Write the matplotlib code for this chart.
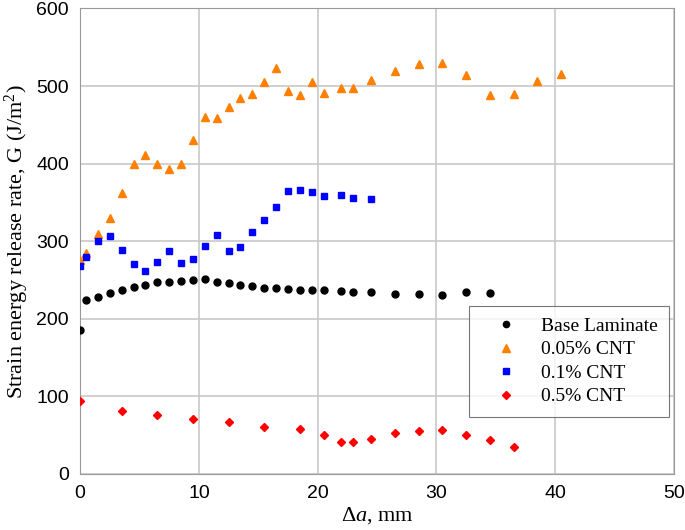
import numpy as np
import matplotlib
matplotlib.use('Agg')
import matplotlib.pyplot as plt

plt.rcParams['mathtext.fontset'] = 'custom'
plt.rcParams['mathtext.rm'] = 'Liberation Serif'
plt.rcParams['mathtext.it'] = 'Liberation Serif:italic'

# crack extension (mm) and G (J/m^2)
base_x = [0, 0.5, 1.5, 2.5, 3.5, 4.5, 5.5, 6.5, 7.5, 8.5, 9.5, 10.5, 11.5, 12.5, 13.5,
          14.5, 15.5, 16.5, 17.5, 18.5, 19.5, 20.5, 22, 23, 24.5, 26.5, 28.5, 30.5, 32.5, 34.5]
base_g = [186, 224, 228, 233, 237, 241, 244, 247, 247, 249, 250, 251, 247, 246, 244,
          242, 240, 239, 238, 237.5, 237.5, 237, 236, 235, 234, 232, 231.5, 231, 234, 233]

cnt005_x = [0, 0.5, 1.5, 2.5, 3.5, 4.5, 5.5, 6.5, 7.5, 8.5, 9.5, 10.5, 11.5, 12.5, 13.5,
            14.5, 15.5, 16.5, 17.5, 18.5, 19.5, 20.5, 22, 23, 24.5, 26.5, 28.5, 30.5, 32.5,
            34.5, 36.5, 38.5, 40.5]
cnt005_g = [276, 285, 309, 330, 362, 399, 411, 400, 393, 400, 430, 460, 459, 473, 485,
            490, 505, 523, 493, 489, 505, 491, 497, 497, 508, 519, 529, 530, 514,
            489, 490, 507, 516]

cnt01_x = [0, 0.5, 1.5, 2.5, 3.5, 4.5, 5.5, 6.5, 7.5, 8.5, 9.5, 10.5, 11.5, 12.5, 13.5,
           14.5, 15.5, 16.5, 17.5, 18.5, 19.5, 20.5, 22, 23, 24.5]
cnt01_g = [268, 279, 300, 306, 288, 271, 261, 273, 287, 272, 277, 294, 308, 287, 293,
           312, 327, 344, 365, 366, 363, 358, 360, 355, 354]

cnt05_x = [0, 3.5, 6.5, 9.5, 12.5, 15.5, 18.5, 20.5, 22, 23, 24.5, 26.5, 28.5, 30.5,
           32.5, 34.5, 36.5]
cnt05_g = [94, 80.5, 76, 71, 66.5, 61, 58, 50, 41, 41, 45.5, 52, 55, 57, 50, 43, 34]

fig = plt.figure(figsize=(6.85, 5.3), dpi=100)
ax = fig.add_axes([0.117, 0.106, 0.867, 0.878])

ax.plot(base_x, base_g, 'o', color='black', markersize=5, label='Base Laminate', zorder=3)
ax.plot(cnt005_x, cnt005_g, '^', color='#ff8000', markersize=6, label='0.05% CNT', zorder=3)
ax.plot(cnt01_x, cnt01_g, 's', color='#0000ff', markersize=5, label='0.1% CNT', zorder=3)
ax.plot(cnt05_x, cnt05_g, 'D', color='#ff0000', markersize=4.5, label='0.5% CNT', zorder=3)

ax.set_xlim(0, 50)
ax.set_ylim(0, 600)
ax.set_xticks(np.arange(0, 51, 10))
ax.set_yticks(np.arange(0, 601, 100))
ax.grid(True, color='#c8c8c8', linewidth=1.2)
ax.set_axisbelow(True)
for s in ax.spines.values():
    s.set_color('#999999')
ax.tick_params(length=0, labelsize=14, pad=8)
for lab in ax.get_xticklabels() + ax.get_yticklabels():
    lab.set_fontfamily('Liberation Sans')

ax.set_xlabel(r'$\Delta\it{a}$, mm', fontsize=16, family='Liberation Serif', labelpad=2)
ax.set_ylabel('Strain energy release rate, G (J/m$^2$)', fontsize=16,
              family='Liberation Serif', labelpad=4)

leg = ax.legend(loc='lower right', bbox_to_anchor=(0.9916, 0.122), borderaxespad=0,
                fancybox=False, prop={'family': 'Liberation Serif', 'size': 14},
                markerscale=0.9, handletextpad=0.5, borderpad=0.6, labelspacing=0.3,
                handlelength=2.6)
leg.get_frame().set_edgecolor('#555555')
leg.get_frame().set_linewidth(0.8)

fig.savefig('out.png', dpi=100)
